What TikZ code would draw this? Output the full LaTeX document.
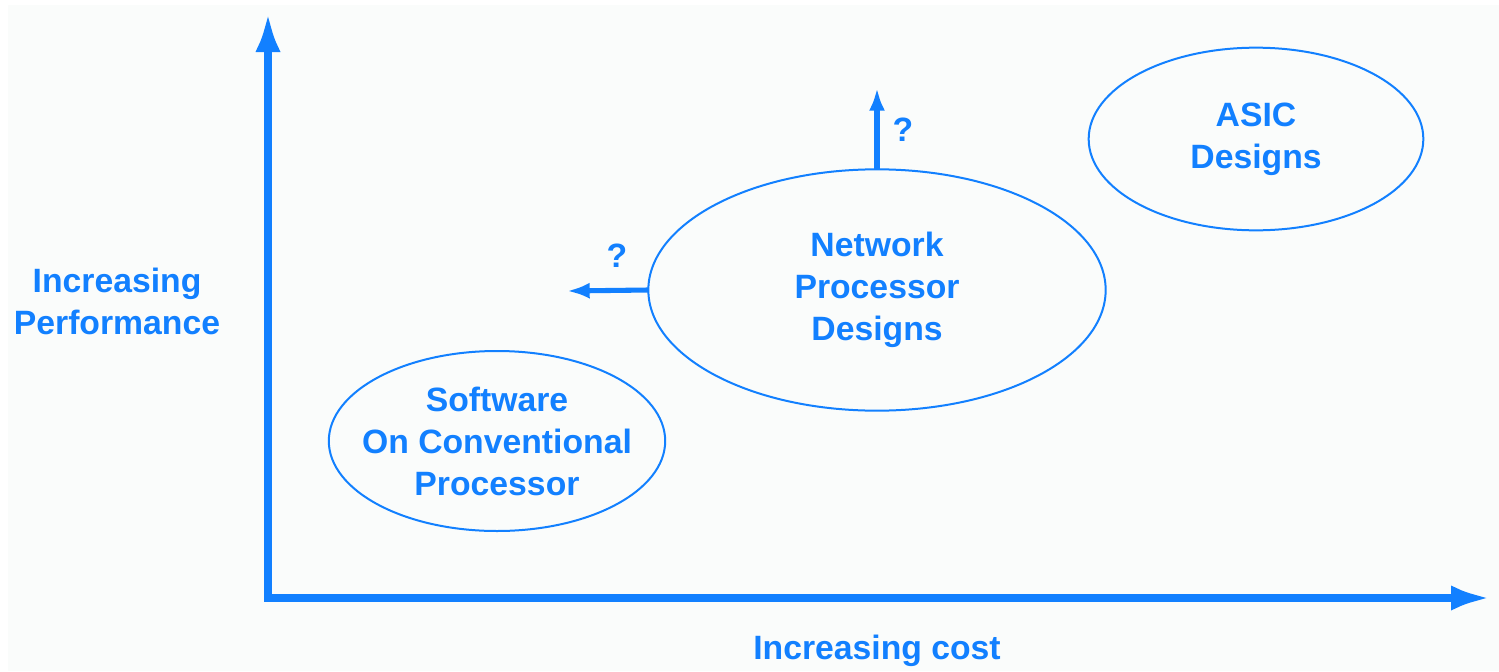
\documentclass[tikz,border=0pt]{standalone}
\usepackage{fontspec}
\setmainfont{Liberation Sans}
\usetikzlibrary{shapes.geometric,arrows.meta}
\definecolor{axisblue}{RGB}{18,128,255}
\definecolor{paper}{RGB}{250,252,251}

\begin{document}
\begin{tikzpicture}[x=0.75pt,y=0.75pt,yscale=-1,xscale=1,
  lbl/.style={text=axisblue,font=\fontsize{25.3}{31.5}\selectfont\bfseries,align=center},
  design/.style={ellipse,draw=axisblue,line width=1.5,lbl,inner sep=0pt,outer sep=0pt},
  axis/.style={draw=axisblue,line width=6,-{Latex[length=30pt,width=19pt]}},
  probe/.style={draw=axisblue,line width=3.8,-{Latex[length=17pt,width=12pt]}}]
\useasboundingbox (0,0) rectangle (1499,671);
% background
\fill [paper] (8,5) rectangle (1499,671);

% axes
\coordinate (origin) at (268,598);
\coordinate (ytip) at (268,12);
\coordinate (xtip) at (1491,598);
\draw [axis] (origin) -- (ytip);
\draw [axis] ([xshift=-3]origin) -- (xtip);

% axis labels
\node [lbl] (perf) at (117,301) {Increasing\\Performance};
\node [lbl] (cost) at (877,651) {Increasing cost};

% designs (sizes in pt = 0.75 px)
\node [design,inner xsep=-12pt,minimum width=252pt,minimum height=135pt] (sw) at (497,441) {Software\\On Conventional\\Processor};
\node [design,minimum width=343pt,minimum height=181pt] (np) at (877,290) {Network\\Processor\\Designs};
\node [design,minimum width=251pt,minimum height=137pt] (asic) at (1256,139) {ASIC\\Designs};

% question arrows
\coordinate (uptip) at (877,88);
\coordinate (lefttip) at (567,291);
\draw [probe] (np.north) -- (uptip);
\draw [probe] (np.west) -- (lefttip);
\node [lbl] (qup) at (903,130) {?};
\node [lbl] (qleft) at (617,256) {?};

\end{tikzpicture}
\end{document}
